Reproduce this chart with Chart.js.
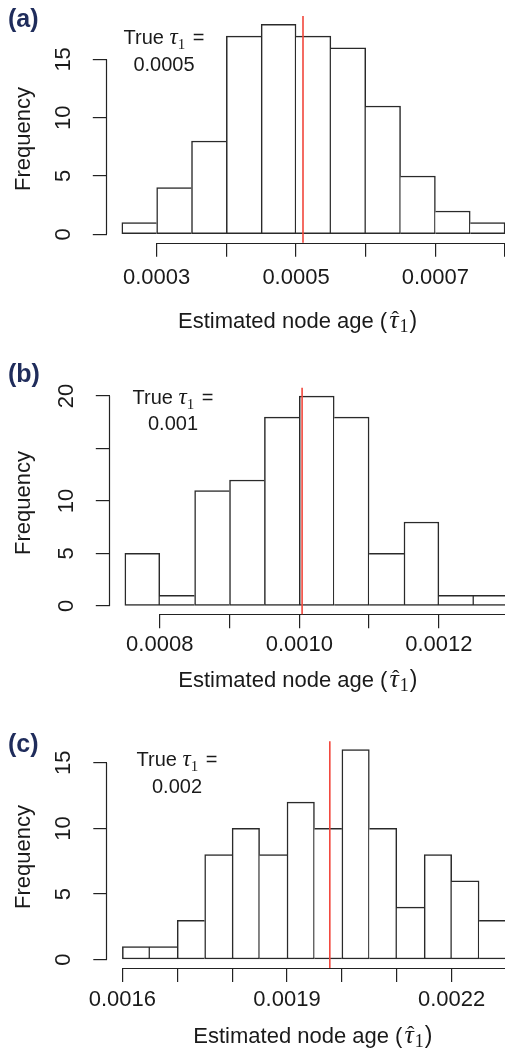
<!DOCTYPE html>
<html><head><meta charset="utf-8">
<script src="https://cdn.jsdelivr.net/npm/chart.js@4/dist/chart.umd.min.js"></script>
<style>
html,body{margin:0;padding:0;background:#fff;overflow:hidden;}
#wrap{position:relative;width:505px;height:1052px;overflow:hidden;background:#fff;}
.panel{position:absolute;left:0;}
canvas{display:block;}
</style></head><body>
<div id="wrap">
  <div class="panel" style="top:0px"><canvas id="ca" width="530" height="340"></canvas></div>
  <div class="panel" style="top:340px"><canvas id="cb" width="530" height="360"></canvas></div>
  <div class="panel" style="top:700px"><canvas id="cc" width="530" height="352"></canvas></div>
</div>
<script>
// ---------- DATA ----------
// Panel (a)
const binEdgesA = [0.00025,0.0003,0.00035,0.0004,0.00045,0.0005,0.00055,0.0006,0.00065,0.0007,0.00075,0.0008];
const countsA = [1,4,8,17,18,17,16,11,5,2,1];
const xTicksA = [0.0003,0.0004,0.0005,0.0006,0.0007,0.0008];
const xTickLabelsA = ['0.0003','','0.0005','','0.0007',''];
const yTicksA = [0,5,10,15];
const yTickLabelsA = ['0','5','10','15'];
const trueTauA = '0.0005';
const markerA = 0.00051;

// Panel (b)
const binEdgesB = [0.00075,0.0008,0.00085,0.0009,0.00095,0.001,0.00105,0.0011,0.00115,0.0012,0.00125,0.0013];
const countsB = [5,1,11,12,18,20,18,5,8,1,1];
const xTicksB = [0.0008,0.0009,0.0010,0.0011,0.0012,0.0013];
const xTickLabelsB = ['0.0008','','0.0010','','0.0012',''];
const yTicksB = [0,5,10,15,20];
const yTickLabelsB = ['0','5','10','','20'];
const trueTauB = '0.001';
const markerB = 0.001004;

// Panel (c)
const binEdgesC = [0.0016,0.00165,0.0017,0.00175,0.0018,0.00185,0.0019,0.00195,0.002,0.00205,0.0021,0.00215,0.0022,0.00225,0.0023];
const countsC = [1,1,3,8,10,8,12,10,16,10,4,8,6,3];
const xTicksC = [0.0016,0.0017,0.0018,0.0019,0.0020,0.0021,0.0022,0.0023];
const xTickLabelsC = ['0.0016','','','0.0019','','','0.0022',''];
const yTicksC = [0,5,10,15];
const yTickLabelsC = ['0','5','10','15'];
const trueTauC = '0.002';
const markerC = 0.001978;

const panelLetters = ['(a)','(b)','(c)'];
const xTitle = 'Estimated node age (';
const yTitle = 'Frequency';

// ---------- LAYOUT (positions / styles only) ----------
const SANS = '"Liberation Sans", Arial, Helvetica, sans-serif';
const SERIF = '"Liberation Serif", "Times New Roman", serif';
const CANVAS_W = 530;
const layoutA = {canvasH:340, plotTop:16, plotLeft:106.5, plotRight:520.4, xAxisH:97.3, xPad:8.5, yPad:17,
  letterBase:26.5, annCx:164, ann1:44, ann2:70.5, titleX:178, titleBase:328, freqCy:139};
const layoutB = {canvasH:360, plotTop:47.7, plotLeft:109.5, plotRight:524, xAxisH:85.7, xPad:3.5, yPad:17,
  letterBase:41.5, annCx:173, ann1:64, ann2:90.2, titleX:178.3, titleBase:346.7, freqCy:163};
const layoutC = {canvasH:352, plotTop:41.3, plotLeft:107, plotRight:521.9, xAxisH:84, xPad:4.5, yPad:17,
  letterBase:51.5, annCx:177, ann1:66.2, ann2:93.2, titleX:193.3, titleBase:343.3, freqCy:157};

Chart.defaults.font.family = SANS;
Chart.defaults.color = '#1a1a1a';

function drawRich(ctx, segs, x, baseline, align) {
  const widths = segs.map(s => { ctx.font = s.font; return ctx.measureText(s.t).width + (s.gap||0) + (s.gapL||0); });
  const total = widths.reduce((a,b)=>a+b,0);
  let cx = align === 'center' ? x - total/2 : x;
  ctx.textAlign = 'left';
  ctx.textBaseline = 'alphabetic';
  segs.forEach((s,i) => {
    ctx.font = s.font;
    const w = ctx.measureText(s.t).width;
    const gx = cx + (s.gapL||0);
    ctx.fillText(s.t, gx, baseline + (s.dy||0));
    if (s.hat) {
      ctx.save();
      ctx.font = s.hatFont;
      ctx.textAlign = 'center';
      ctx.fillText('\u02C6', gx + w/2 + (s.hatDx||0), baseline + (s.hatDy||0));
      ctx.restore();
    }
    cx += widths[i];
  });
}

const decorPlugin = {
  id: 'decor',
  afterDatasetsDraw(chart, args, o) {
    const {ctx, chartArea: ca, scales: {x, y}} = chart;
    ctx.save();
    // axis lines (R style: first to last tick)
    ctx.strokeStyle = '#222';
    ctx.lineWidth = 1.2;
    const yb = Math.round(ca.bottom) + 0.5;
    ctx.beginPath();
    ctx.moveTo(x.getPixelForValue(o.xTicks[0]), yb);
    ctx.lineTo(x.getPixelForValue(o.xTicks[o.xTicks.length-1]), yb);
    ctx.stroke();
    const xl = Math.round(ca.left) - 0.5;
    ctx.beginPath();
    ctx.moveTo(xl, y.getPixelForValue(o.yTicks[0]));
    ctx.lineTo(xl, y.getPixelForValue(o.yTicks[o.yTicks.length-1]));
    ctx.stroke();
    // marker line
    const rx = x.getPixelForValue(o.marker);
    ctx.strokeStyle = '#f2473c';
    ctx.lineWidth = 1.6;
    ctx.beginPath();
    ctx.moveTo(rx, ca.top);
    ctx.lineTo(rx, ca.bottom);
    ctx.stroke();
    // texts
    const L = o.L;
    ctx.fillStyle = '#1a1a1a';
    drawRich(ctx, [
      {t:'True ', font:'20px '+SANS},
      {t:'\u03C4', font:'italic 23px '+SERIF},
      {t:'1', font:'15px '+SERIF, dy:5, gap:2},
      {t:' =', font:'20px '+SANS}
    ], L.annCx, L.ann1, 'center');
    ctx.font = '20px ' + SANS;
    ctx.textAlign = 'center';
    ctx.fillText(o.trueTau, L.annCx, L.ann2);
    // x title
    drawRich(ctx, [
      {t:xTitle, font:'22px '+SANS},
      {t:'\u03C4', font:'italic 26px '+SERIF, hat:true, hatFont:'22px '+SERIF, hatDy:-2, hatDx:1.5, gapL:2, gap:1},
      {t:'1', font:'18px '+SERIF, dy:4, gap:1},
      {t:')', font:'23px '+SANS}
    ], L.titleX, L.titleBase, 'left');
    // y title
    ctx.save();
    ctx.translate(24, L.freqCy);
    ctx.rotate(-Math.PI/2);
    ctx.font = '22px ' + SANS;
    ctx.textAlign = 'center';
    ctx.textBaseline = 'middle';
    ctx.fillText(yTitle, 0, 0);
    ctx.restore();
    // panel letter
    ctx.font = 'bold 25px ' + SANS;
    ctx.fillStyle = '#1f2c5b';
    ctx.textAlign = 'left';
    ctx.textBaseline = 'alphabetic';
    ctx.fillText(o.letter, 8, L.letterBase);
    ctx.restore();
  }
};

function makeChart(id, edges, counts, xTicks, xLabels, yTicks, yLabels, trueTau, marker, letter, L) {
  const centers = counts.map((c, i) => (edges[i] + edges[i+1]) / 2);
  const span = edges[edges.length-1] - edges[0];
  const xMin = edges[0] - 0.04 * span, xMax = edges[edges.length-1] + 0.04 * span;
  const top = Math.max(...counts);
  const yMin = -0.04 * top, yMax = top * 1.04;
  const BW = 1.5;
  new Chart(document.getElementById(id), {
    type: 'bar',
    data: {
      datasets: [{
        data: centers.map((x, i) => ({x: x, y: counts[i]})),
        backgroundColor: '#ffffff',
        borderColor: '#2a2a2a',
        borderSkipped: false,
        borderWidth: (c) => {
          const d = c.dataset.data, i = c.dataIndex;
          if (i === undefined || !d[i]) return BW;
          const h = d[i].y;
          const prev = i > 0 ? d[i-1].y : -1;
          const next = i < d.length - 1 ? d[i+1].y : -1;
          return {top: BW, bottom: BW, left: h > prev ? BW : 0, right: h >= next ? BW : 0};
        },
        barPercentage: 1,
        categoryPercentage: 1
      }]
    },
    options: {
      responsive: false,
      animation: false,
      devicePixelRatio: 1,
      layout: {padding: {top: L.plotTop, left: 0, right: CANVAS_W - L.plotRight, bottom: 0}},
      plugins: {
        legend: {display: false},
        tooltip: {enabled: false},
        decor: {xTicks, yTicks, marker, trueTau, letter, L}
      },
      scales: {
        x: {
          type: 'linear', offset: false, min: xMin, max: xMax,
          grid: {offset: false, drawOnChartArea: false, drawTicks: true, tickLength: 14, color: '#222', lineWidth: 1.2},
          border: {display: false},
          afterBuildTicks: s => { s.ticks = xTicks.map(v => ({value: v})); },
          afterFit: s => { s.height = L.xAxisH; s.paddingLeft = 0; s.paddingRight = 0; },
          ticks: {autoSkip: false, maxRotation: 0, minRotation: 0, padding: L.xPad, color: '#1a1a1a',
                  font: {size: 22, family: SANS}, callback: (v, i) => xLabels[i]}
        },
        y: {
          type: 'linear', min: yMin, max: yMax,
          grid: {drawOnChartArea: false, drawTicks: true, tickLength: 13.7, color: '#222', lineWidth: 1.2},
          border: {display: false},
          afterBuildTicks: s => { s.ticks = yTicks.map(v => ({value: v})); },
          afterFit: s => { s.width = L.plotLeft; s.paddingTop = 0; s.paddingBottom = 0; },
          ticks: {autoSkip: false, minRotation: 90, maxRotation: 90, crossAlign: 'center', padding: L.yPad,
                  color: '#1a1a1a', font: {size: 22, family: SANS}, callback: (v, i) => yLabels[i]}
        }
      }
    },
    plugins: [decorPlugin]
  });
}

makeChart('ca', binEdgesA, countsA, xTicksA, xTickLabelsA, yTicksA, yTickLabelsA, trueTauA, markerA, panelLetters[0], layoutA);
makeChart('cb', binEdgesB, countsB, xTicksB, xTickLabelsB, yTicksB, yTickLabelsB, trueTauB, markerB, panelLetters[1], layoutB);
makeChart('cc', binEdgesC, countsC, xTicksC, xTickLabelsC, yTicksC, yTickLabelsC, trueTauC, markerC, panelLetters[2], layoutC);
</script>
</body></html>
